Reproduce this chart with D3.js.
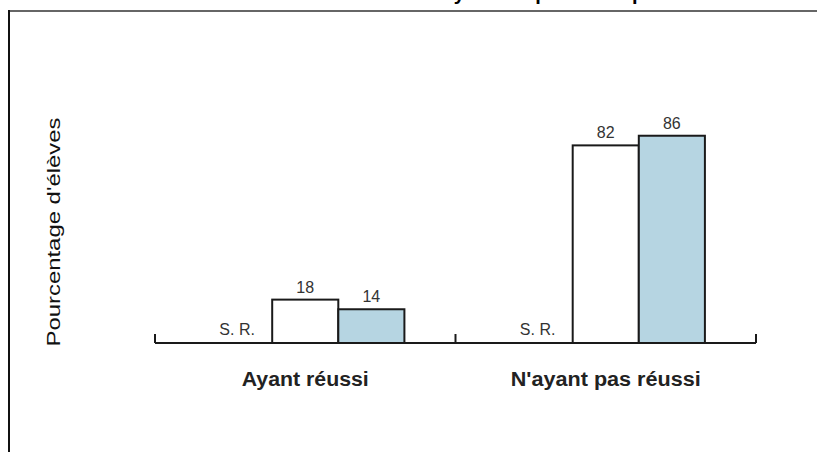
<!DOCTYPE html>
<html>
<head>
<meta charset="utf-8">
<script src="https://cdn.jsdelivr.net/npm/d3@7"></script>
<style>
  body { margin: 0; background: #fff; }
  svg { display: block; font-family: Arial, "Liberation Sans", sans-serif; }
</style>
</head>
<body>
<div id="chart"></div>
<script>
// data
var categories = ["Ayant réussi", "N'ayant pas réussi"];
var seriesKeys = ["sr", "groupe1", "groupe2"];
var valuesSR = [null, null];       // "S. R." : sans réponse
var values1 = [18, 82];
var values2 = [14, 86];
var srLabel = "S. R.";
var yTitle = "Pourcentage d'élèves";
var chartTitle = "Élèves ayant un parcours professionnel";

var W = 817, H = 452;
var svg = d3.select("#chart").append("svg")
    .attr("width", W)
    .attr("height", H);

// frame (top border gray, left border black)
svg.append("line")
    .attr("x1", 8).attr("x2", W).attr("y1", 11).attr("y2", 11)
    .style("stroke", "#666").style("stroke-width", 2);
svg.append("line")
    .attr("x1", 9).attr("x2", 9).attr("y1", 10).attr("y2", H)
    .style("stroke", "#111").style("stroke-width", 2);

// title, cut off by the top edge as in the source
svg.append("text")
    .attr("x", 369).attr("y", 0)
    .attr("text-anchor", "start")
    .style("font-weight", "bold").style("font-size", "20px")
    .style("letter-spacing", "0.6px")
    .text(chartTitle);

// scales
var x0 = d3.scaleBand()
    .domain(categories)
    .range([155, 756]);

var x1 = d3.scaleBand()
    .domain(seriesKeys)
    .range([0, x0.bandwidth()])
    .paddingOuter(0.773);

var y = d3.scaleLinear()
    .domain([0, 100])
    .range([343, 102]);

var rows = categories.map(function (c, i) {
    return { cat: c, sr: valuesSR[i], groupe1: values1[i], groupe2: values2[i] };
});

var fills = { groupe1: "#ffffff", groupe2: "#b6d5e2" };

var groups = svg.selectAll(".grp")
    .data(rows)
    .enter().append("g")
    .attr("class", "grp")
    .attr("transform", function (d) { return "translate(" + x0(d.cat) + ",0)"; });

// bars
groups.selectAll("rect")
    .data(function (d) {
        return ["groupe1", "groupe2"].map(function (k) { return { key: k, value: d[k] }; });
    })
    .enter().append("rect")
    .attr("x", function (d) { return x1(d.key); })
    .attr("y", function (d) { return y(d.value); })
    .attr("width", x1.bandwidth())
    .attr("height", function (d) { return y(0) - y(d.value); })
    .style("fill", function (d) { return fills[d.key]; })
    .style("stroke", "#1a1a1a")
    .style("stroke-width", 2);

// value labels
groups.selectAll(".val")
    .data(function (d) {
        return ["groupe1", "groupe2"].map(function (k) { return { key: k, value: d[k] }; });
    })
    .enter().append("text")
    .attr("class", "val")
    .attr("x", function (d) { return x1(d.key) + x1.bandwidth() / 2; })
    .attr("y", function (d) { return y(d.value) - 7; })
    .attr("text-anchor", "middle")
    .style("font-size", "16px")
    .style("fill", "#333")
    .text(function (d) { return d.value; });

// "S. R." where there is no value
groups.append("text")
    .attr("x", x1("sr") + x1.bandwidth() / 2 - 2)
    .attr("y", y(0) - 8)
    .attr("text-anchor", "middle")
    .style("font-size", "16px")
    .style("fill", "#333")
    .text(function (d) { return d.sr == null ? srLabel : d.sr; });

// axis: baseline and ticks at the group edges
var axis = svg.append("g");
axis.append("line")
    .attr("x1", x0.range()[0]).attr("x2", x0.range()[1])
    .attr("y1", y(0)).attr("y2", y(0))
    .style("stroke", "#1a1a1a").style("stroke-width", 2);

var edges = [x0.range()[0]].concat(categories.map(function (c) { return x0(c) + x0.bandwidth(); }));
axis.selectAll(".tick")
    .data(edges)
    .enter().append("line")
    .attr("x1", function (d) { return d; }).attr("x2", function (d) { return d; })
    .attr("y1", y(0)).attr("y2", y(0) - 9)
    .style("stroke", "#1a1a1a").style("stroke-width", 2);

// category labels
var catWidths = [127, 190];
axis.selectAll(".cat")
    .data(categories)
    .enter().append("text")
    .attr("class", "cat")
    .attr("x", function (d) { return x0(d) + x0.bandwidth() / 2; })
    .attr("y", 386)
    .attr("text-anchor", "middle")
    .attr("textLength", function (d, i) { return catWidths[i]; })
    .attr("lengthAdjust", "spacingAndGlyphs")
    .style("font-weight", "bold")
    .style("font-size", "20px")
    .style("fill", "#222")
    .text(function (d) { return d; });

// y axis title
svg.append("text")
    .attr("transform", "translate(60,232) rotate(-90)")
    .attr("text-anchor", "middle")
    .attr("textLength", 229)
    .attr("lengthAdjust", "spacingAndGlyphs")
    .style("font-size", "19px")
    .style("fill", "#111")
    .text(yTitle);
</script>
</body>
</html>
